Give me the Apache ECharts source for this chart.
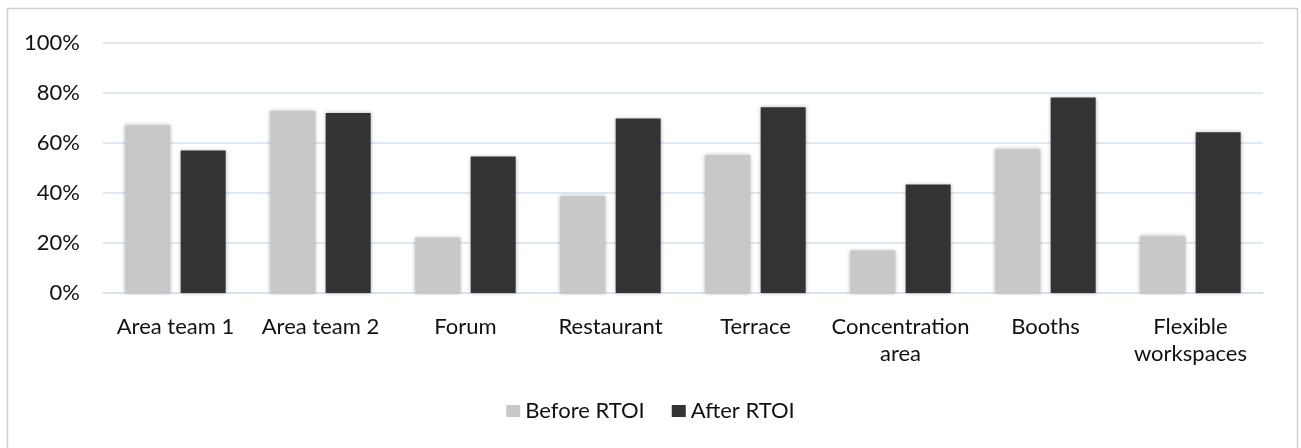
<!DOCTYPE html>
<html>
<head>
<meta charset="utf-8">
<script src="https://cdn.jsdelivr.net/npm/echarts@6/dist/echarts.min.js"></script>
<style>
html,body{margin:0;padding:0;background:#fff;}
#chart{width:1301px;height:448px;}
</style>
</head>
<body>
<div id="chart"></div>
<script>
const categories = ['Area team 1', 'Area team 2', 'Forum', 'Restaurant', 'Terrace', 'Concentration\narea', 'Booths', 'Flexible\nworkspaces'];
const beforeRTOI = [67.1, 72.8, 22.2, 38.7, 55.1, 17, 57.5, 22.7];
const afterRTOI = [57, 72, 54.6, 69.8, 74.3, 43.4, 78.2, 64.3];
const yTicks = { min: 0, max: 100, interval: 20 };

const FONT = 'Lato';
const chart = echarts.init(document.getElementById('chart'));
chart.setOption({
  animation: false,
  backgroundColor: '#ffffff',
  textStyle: { fontFamily: FONT },
  graphic: [{
    type: 'rect',
    shape: { x: 7.5, y: 8.5, width: 1290, height: 470 },
    style: { fill: 'none', stroke: '#d0d0d0', lineWidth: 1.5 },
    silent: true
  }],
  grid: { left: 103, right: 38, top: 43, bottom: 155, containLabel: false },
  legend: {
    bottom: 21,
    left: 'center',
    itemWidth: 14,
    itemHeight: 12,
    itemGap: 27,
    icon: 'rect',
    textStyle: { fontFamily: FONT, fontSize: 22, color: '#111' },
    data: ['Before RTOI', 'After RTOI']
  },
  xAxis: {
    type: 'category',
    data: categories,
    axisLine: { show: true, lineStyle: { color: '#d6e0ee', width: 1.5 } },
    axisTick: { show: false },
    axisLabel: { margin: 20, fontFamily: FONT, fontSize: 22, lineHeight: 27, color: '#111', interval: 0 }
  },
  yAxis: {
    type: 'value',
    min: yTicks.min,
    max: yTicks.max,
    interval: yTicks.interval,
    axisLine: { show: false },
    axisTick: { show: false },
    splitLine: { lineStyle: { color: '#d6e0ee', width: 1.5 } },
    axisLabel: { margin: 23, fontFamily: FONT, fontSize: 22, color: '#111', formatter: '{value}%' }
  },
  series: [
    {
      name: 'Before RTOI',
      type: 'bar',
      data: beforeRTOI,
      barWidth: 45,
      barGap: '23%',
      itemStyle: { color: '#c8c8c8', shadowBlur: 4, shadowColor: 'rgba(0,0,0,0.3)' }
    },
    {
      name: 'After RTOI',
      type: 'bar',
      data: afterRTOI,
      barWidth: 45,
      barGap: '23%',
      itemStyle: { color: '#333333', shadowBlur: 4, shadowColor: 'rgba(0,0,0,0.3)' }
    }
  ]
});
</script>
</body>
</html>
